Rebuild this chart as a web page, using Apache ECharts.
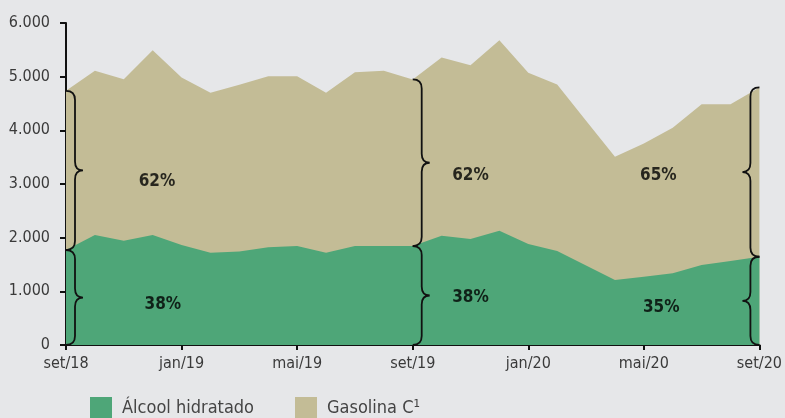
<!DOCTYPE html>
<html lang="pt">
<head>
    <meta charset="UTF-8">
    <title>Álcool hidratado x Gasolina C</title>
    <script src="https://cdn.jsdelivr.net/npm/echarts@6/dist/echarts.min.js"></script>
    <style>
        html, body { margin: 0; padding: 0; background: #e6e7e9; }
        #main { width: 785px; height: 418px; }
    </style>
</head>
<body>
<div id="main"></div>
<script>
    // meses set/18 .. set/20
    const months = ['set/18','out/18','nov/18','dez/18','jan/19','fev/19','mar/19','abr/19','mai/19','jun/19','jul/19','ago/19',
        'set/19','out/19','nov/19','dez/19','jan/20','fev/20','mar/20','abr/20','mai/20','jun/20','jul/20','ago/20','set/20'];
    const tickLabels = ['set/18','jan/19','mai/19','set/19','jan/20','mai/20','set/20'];

    const alcool = [1769,2048,1942,2048,1862,1719,1740,1820,1844,1719,1844,1844,
        1844,2036,1974,2129,1881,1750,1480,1210,1272,1335,1490,1564,1644];
    const gasolina = [2967,3060,3011,3445,3123,2979,3110,3189,3165,2979,3240,3264,
        3104,3321,3240,3551,3190,3105,2700,2297,2484,2712,2998,2924,3155];
    // topo da pilha (álcool + gasolina)
    const total = alcool.map((a, i) => a + gasolina[i]);

    // chaves: [mes, base, topo, lado]
    const braces = [
        [0, 0, alcool[0], 1], [0, alcool[0], total[0], 1],
        [12, 0, alcool[12], 1], [12, alcool[12], total[12], 1],
        [24, 0, alcool[24], -1], [24, alcool[24], total[24], -1]
    ];

    const pctLabels = ['62%', '38%', '62%', '38%', '65%', '35%'];
    const pctX = [3.15, 3.35, 14.0, 14.0, 20.5, 20.6];
    const pctY = [3050, 750, 3160, 880, 3160, 690];

    const fontFam = '"Liberation Sans Narrow", "DejaVu Sans Condensed", sans-serif';

    function fmt(v) {
        return String(v).replace(/\B(?=(\d{3})+(?!\d))/g, '.');
    }

    function braceItem(params, api) {
        const x = api.value(0);
        const p0 = api.coord([x, api.value(1)]);
        const p1 = api.coord([x, api.value(2)]);
        const s = api.value(3);
        const x0 = p0[0];
        const top = p1[1], bot = p0[1];
        const mid = (top + bot) / 2;
        const w1 = 9 * s, w2 = 17 * s, r = 9;
        const path = 'M' + x0 + ' ' + top +
            ' Q' + (x0 + w1) + ' ' + top + ' ' + (x0 + w1) + ' ' + (top + r) +
            ' L' + (x0 + w1) + ' ' + (mid - r) +
            ' Q' + (x0 + w1) + ' ' + mid + ' ' + (x0 + w2) + ' ' + mid +
            ' Q' + (x0 + w1) + ' ' + mid + ' ' + (x0 + w1) + ' ' + (mid + r) +
            ' L' + (x0 + w1) + ' ' + (bot - r) +
            ' Q' + (x0 + w1) + ' ' + bot + ' ' + x0 + ' ' + bot;
        return {
            type: 'path',
            shape: {pathData: path},
            style: {stroke: '#111', lineWidth: 1.8, fill: null}
        };
    }

    const chart = echarts.init(document.getElementById('main'));
    chart.setOption({
        backgroundColor: '#e6e7e9',
        animation: false,
        grid: {left: 66, right: 24, top: 23, bottom: 73},
        legend: {
            left: 90, top: 397, padding: 0,
            icon: 'rect',
            itemWidth: 22, itemHeight: 22, itemGap: 41,
            data: ['Álcool hidratado', 'Gasolina C¹'],
            textStyle: {fontFamily: fontFam, fontSize: 18, color: '#444', padding: [0, 0, 0, 5]}
        },
        xAxis: {
            type: 'value', min: 0, max: 24, interval: 4,
            splitLine: {show: false},
            axisLine: {lineStyle: {color: '#111', width: 2}},
            axisTick: {show: true, length: 5, lineStyle: {color: '#111', width: 2}},
            axisLabel: {
                margin: 11, fontFamily: fontFam, fontSize: 16, color: '#3a3a3a',
                formatter: v => tickLabels[v / 4]
            }
        },
        yAxis: {
            type: 'value', min: 0, max: 6000, interval: 1000,
            splitLine: {show: false},
            axisLine: {show: true, lineStyle: {color: '#111', width: 2}},
            axisTick: {show: true, length: 6, lineStyle: {color: '#111', width: 2}},
            axisLabel: {margin: 16, fontFamily: fontFam, fontSize: 16, color: '#3a3a3a', formatter: fmt}
        },
        series: [
            {
                name: 'Gasolina C¹', type: 'line',
                data: total.map((v, i) => [i, v]),
                symbol: 'none', lineStyle: {width: 0},
                itemStyle: {color: '#c3bc96'},
                areaStyle: {color: '#c3bc96', opacity: 1},
                z: 2
            },
            {
                name: 'Álcool hidratado', type: 'line',
                data: alcool.map((v, i) => [i, v]),
                symbol: 'none', lineStyle: {width: 0},
                itemStyle: {color: '#4ea678'},
                areaStyle: {color: '#4ea678', opacity: 1},
                z: 3
            },
            {
                type: 'custom', renderItem: braceItem,
                data: braces, encode: {x: 0, y: [1, 2]},
                clip: false, silent: true, z: 5
            },
            {
                type: 'scatter', symbolSize: 0, silent: true, z: 6,
                data: pctLabels.map((t, i) => ({name: t, value: [pctX[i], pctY[i]]})),
                label: {
                    show: true, position: 'inside', formatter: '{b}',
                    fontFamily: fontFam, fontSize: 17, fontWeight: 'bold', color: '#000'
                }
            }
        ]
    });
</script>
</body>
</html>
